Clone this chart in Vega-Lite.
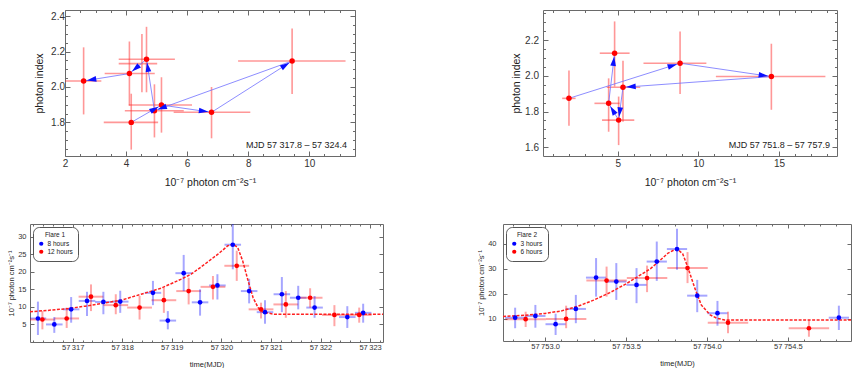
{
  "$schema": "https://vega.github.io/schema/vega-lite/v6.json",
  "padding": {"left": 0, "top": 7, "right": 0, "bottom": 0},
  "spacing": 34,
  "resolve": {"scale": {"color": "independent"}, "legend": {"color": "independent"}},
  "datasets": {
    "hysteresis_flare1": [
      {"step": 1, "flux": 4.17, "flux_lo": 3.27, "flux_hi": 5.05, "index": 1.80, "index_lo": 1.646, "index_hi": 1.962},
      {"step": 2, "flux": 5.16, "flux_lo": 4.09, "flux_hi": 6.16, "index": 1.898, "index_lo": 1.742, "index_hi": 2.055},
      {"step": 3, "flux": 6.80, "flux_lo": 5.56, "flux_hi": 8.07, "index": 1.857, "index_lo": 1.71, "index_hi": 2.00},
      {"step": 4, "flux": 9.44, "flux_lo": 7.67, "flux_hi": 11.19, "index": 2.147, "index_lo": 1.96, "index_hi": 2.33},
      {"step": 5, "flux": 4.93, "flux_lo": 3.96, "flux_hi": 5.89, "index": 1.866, "index_lo": 1.715, "index_hi": 2.015},
      {"step": 6, "flux": 4.67, "flux_lo": 3.76, "flux_hi": 5.60, "index": 2.157, "index_lo": 1.97, "index_hi": 2.34},
      {"step": 7, "flux": 4.11, "flux_lo": 3.30, "flux_hi": 4.94, "index": 2.076, "index_lo": 1.895, "index_hi": 2.257},
      {"step": 8, "flux": 2.61, "flux_lo": 2.01, "flux_hi": 3.19, "index": 2.034, "index_lo": 1.845, "index_hi": 2.224},
      {"step": null, "flux": 4.52, "flux_lo": 3.76, "flux_hi": 5.02, "index": 2.132, "index_lo": 1.97, "index_hi": 2.30}
    ],
    "hysteresis_flare2": [
      {"step": 1, "flux": 1.98, "flux_lo": 1.56, "flux_hi": 2.39, "index": 1.874, "index_lo": 1.72, "index_hi": 2.03},
      {"step": 2, "flux": 8.87, "flux_lo": 6.6, "flux_hi": 10.5, "index": 2.071, "index_lo": 1.898, "index_hi": 2.249},
      {"step": 3, "flux": 14.53, "flux_lo": 11.09, "flux_hi": 17.88, "index": 1.996, "index_lo": 1.81, "index_hi": 2.18},
      {"step": 4, "flux": 5.33, "flux_lo": 4.32, "flux_hi": 6.4, "index": 1.936, "index_lo": 1.743, "index_hi": 2.084},
      {"step": 5, "flux": 5.06, "flux_lo": 4.03, "flux_hi": 6.03, "index": 1.752, "index_lo": 1.612, "index_hi": 1.884},
      {"step": 6, "flux": 4.44, "flux_lo": 3.56, "flux_hi": 5.12, "index": 1.846, "index_lo": 1.687, "index_hi": 1.986},
      {"step": 7, "flux": 4.81, "flux_lo": 3.89, "flux_hi": 5.74, "index": 2.127, "index_lo": 1.94, "index_hi": 2.305}
    ],
    "lightcurve_flare1": [
      {"binning": "8 hours", "t": 57316.30, "t_lo": 57316.133, "t_hi": 57316.467, "flux": 6.7, "flux_lo": 2.0, "flux_hi": 11.5},
      {"binning": "8 hours", "t": 57316.63, "t_lo": 57316.463, "t_hi": 57316.797, "flux": 5.0, "flux_lo": 2.6, "flux_hi": 7.1},
      {"binning": "8 hours", "t": 57316.97, "t_lo": 57316.803, "t_hi": 57317.137, "flux": 9.3, "flux_lo": 5.5, "flux_hi": 12.8},
      {"binning": "8 hours", "t": 57317.29, "t_lo": 57317.123, "t_hi": 57317.457, "flux": 11.7, "flux_lo": 7.4, "flux_hi": 14.3},
      {"binning": "8 hours", "t": 57317.62, "t_lo": 57317.453, "t_hi": 57317.787, "flux": 11.4, "flux_lo": 7.9, "flux_hi": 14.3},
      {"binning": "8 hours", "t": 57317.96, "t_lo": 57317.793, "t_hi": 57318.127, "flux": 11.5, "flux_lo": 8.3, "flux_hi": 14.6},
      {"binning": "8 hours", "t": 57318.62, "t_lo": 57318.453, "t_hi": 57318.787, "flux": 14.0, "flux_lo": 10.5, "flux_hi": 17.4},
      {"binning": "8 hours", "t": 57318.92, "t_lo": 57318.753, "t_hi": 57319.087, "flux": 6.1, "flux_lo": 3.6, "flux_hi": 8.8},
      {"binning": "8 hours", "t": 57319.24, "t_lo": 57319.073, "t_hi": 57319.407, "flux": 19.6, "flux_lo": 14.5, "flux_hi": 24.8},
      {"binning": "8 hours", "t": 57319.57, "t_lo": 57319.403, "t_hi": 57319.737, "flux": 11.3, "flux_lo": 7.5, "flux_hi": 15.0},
      {"binning": "8 hours", "t": 57319.92, "t_lo": 57319.753, "t_hi": 57320.087, "flux": 16.1, "flux_lo": 12.1, "flux_hi": 19.3},
      {"binning": "8 hours", "t": 57320.23, "t_lo": 57320.063, "t_hi": 57320.397, "flux": 27.7, "flux_lo": 20.7, "flux_hi": 33.6},
      {"binning": "8 hours", "t": 57320.56, "t_lo": 57320.393, "t_hi": 57320.727, "flux": 14.5, "flux_lo": 11.0, "flux_hi": 18.0},
      {"binning": "8 hours", "t": 57320.88, "t_lo": 57320.713, "t_hi": 57321.047, "flux": 8.5, "flux_lo": 5.2, "flux_hi": 11.9},
      {"binning": "8 hours", "t": 57321.22, "t_lo": 57321.053, "t_hi": 57321.387, "flux": 13.6, "flux_lo": 8.5, "flux_hi": 18.5},
      {"binning": "8 hours", "t": 57321.55, "t_lo": 57321.383, "t_hi": 57321.717, "flux": 12.6, "flux_lo": 9.3, "flux_hi": 16.0},
      {"binning": "8 hours", "t": 57321.88, "t_lo": 57321.713, "t_hi": 57322.047, "flux": 9.8, "flux_lo": 6.9, "flux_hi": 13.1},
      {"binning": "8 hours", "t": 57322.54, "t_lo": 57322.373, "t_hi": 57322.707, "flux": 7.1, "flux_lo": 4.0, "flux_hi": 10.2},
      {"binning": "8 hours", "t": 57322.86, "t_lo": 57322.693, "t_hi": 57323.027, "flux": 8.3, "flux_lo": 5.5, "flux_hi": 10.9},
      {"binning": "12 hours", "t": 57316.39, "t_lo": 57316.14, "t_hi": 57316.64, "flux": 6.4, "flux_lo": 3.6, "flux_hi": 8.8},
      {"binning": "12 hours", "t": 57316.88, "t_lo": 57316.63, "t_hi": 57317.13, "flux": 6.7, "flux_lo": 4.0, "flux_hi": 9.8},
      {"binning": "12 hours", "t": 57317.37, "t_lo": 57317.12, "t_hi": 57317.62, "flux": 12.9, "flux_lo": 8.8, "flux_hi": 16.4},
      {"binning": "12 hours", "t": 57317.87, "t_lo": 57317.62, "t_hi": 57318.12, "flux": 10.5, "flux_lo": 7.9, "flux_hi": 13.6},
      {"binning": "12 hours", "t": 57318.35, "t_lo": 57318.10, "t_hi": 57318.60, "flux": 9.8, "flux_lo": 6.4, "flux_hi": 13.1},
      {"binning": "12 hours", "t": 57318.84, "t_lo": 57318.59, "t_hi": 57319.09, "flux": 11.9, "flux_lo": 8.3, "flux_hi": 15.5},
      {"binning": "12 hours", "t": 57319.34, "t_lo": 57319.09, "t_hi": 57319.59, "flux": 14.5, "flux_lo": 10.7, "flux_hi": 18.3},
      {"binning": "12 hours", "t": 57319.83, "t_lo": 57319.58, "t_hi": 57320.08, "flux": 15.7, "flux_lo": 12.1, "flux_hi": 18.8},
      {"binning": "12 hours", "t": 57320.31, "t_lo": 57320.06, "t_hi": 57320.56, "flux": 21.7, "flux_lo": 17.4, "flux_hi": 26.0},
      {"binning": "12 hours", "t": 57320.80, "t_lo": 57320.55, "t_hi": 57321.05, "flux": 9.3, "flux_lo": 6.7, "flux_hi": 11.2},
      {"binning": "12 hours", "t": 57321.30, "t_lo": 57321.05, "t_hi": 57321.55, "flux": 10.7, "flux_lo": 6.9, "flux_hi": 14.5},
      {"binning": "12 hours", "t": 57321.79, "t_lo": 57321.54, "t_hi": 57322.04, "flux": 12.6, "flux_lo": 9.8, "flux_hi": 15.3},
      {"binning": "12 hours", "t": 57322.28, "t_lo": 57322.03, "t_hi": 57322.53, "flux": 7.7, "flux_lo": 4.5, "flux_hi": 10.5},
      {"binning": "12 hours", "t": 57322.78, "t_lo": 57322.53, "t_hi": 57323.03, "flux": 7.7, "flux_lo": 5.5, "flux_hi": 9.8}
    ],
    "fit_flare1": [
      {"t": 57316.14, "flux": 8.6}, {"t": 57316.50, "flux": 9.0}, {"t": 57316.90, "flux": 9.5},
      {"t": 57317.25, "flux": 10.2}, {"t": 57317.57, "flux": 10.9}, {"t": 57317.98, "flux": 11.9},
      {"t": 57318.38, "flux": 13.6}, {"t": 57318.78, "flux": 15.3}, {"t": 57319.19, "flux": 17.9},
      {"t": 57319.39, "flux": 19.3}, {"t": 57319.66, "flux": 22.1}, {"t": 57319.93, "flux": 25.0},
      {"t": 57320.13, "flux": 27.4}, {"t": 57320.23, "flux": 27.9}, {"t": 57320.33, "flux": 26.9},
      {"t": 57320.43, "flux": 23.1}, {"t": 57320.54, "flux": 17.4}, {"t": 57320.64, "flux": 12.6},
      {"t": 57320.74, "flux": 9.8}, {"t": 57320.84, "flux": 8.5}, {"t": 57321.07, "flux": 7.9},
      {"t": 57323.26, "flux": 7.9}
    ],
    "lightcurve_flare2": [
      {"binning": "3 hours", "t": 57752.815, "t_lo": 57752.7525, "t_hi": 57752.8775, "flux": 10.5, "flux_lo": 6.3, "flux_hi": 14.5},
      {"binning": "3 hours", "t": 57752.94, "t_lo": 57752.8775, "t_hi": 57753.0025, "flux": 11.2, "flux_lo": 6.5, "flux_hi": 15.6},
      {"binning": "3 hours", "t": 57753.065, "t_lo": 57753.0025, "t_hi": 57753.1275, "flux": 7.9, "flux_lo": 3.6, "flux_hi": 12.1},
      {"binning": "3 hours", "t": 57753.19, "t_lo": 57753.1275, "t_hi": 57753.2525, "flux": 14.0, "flux_lo": 8.3, "flux_hi": 19.6},
      {"binning": "3 hours", "t": 57753.315, "t_lo": 57753.2525, "t_hi": 57753.3775, "flux": 26.5, "flux_lo": 18.9, "flux_hi": 34.3},
      {"binning": "3 hours", "t": 57753.44, "t_lo": 57753.3775, "t_hi": 57753.5025, "flux": 24.9, "flux_lo": 17.6, "flux_hi": 32.3},
      {"binning": "3 hours", "t": 57753.565, "t_lo": 57753.5025, "t_hi": 57753.6275, "flux": 23.6, "flux_lo": 16.3, "flux_hi": 30.3},
      {"binning": "3 hours", "t": 57753.69, "t_lo": 57753.6275, "t_hi": 57753.7525, "flux": 32.9, "flux_lo": 25.2, "flux_hi": 40.9},
      {"binning": "3 hours", "t": 57753.815, "t_lo": 57753.7525, "t_hi": 57753.8775, "flux": 37.9, "flux_lo": 29.6, "flux_hi": 46.0},
      {"binning": "3 hours", "t": 57753.94, "t_lo": 57753.8775, "t_hi": 57754.0025, "flux": 19.3, "flux_lo": 12.7, "flux_hi": 25.6},
      {"binning": "3 hours", "t": 57754.065, "t_lo": 57754.0025, "t_hi": 57754.1275, "flux": 12.3, "flux_lo": 7.3, "flux_hi": 17.2},
      {"binning": "3 hours", "t": 57754.815, "t_lo": 57754.7525, "t_hi": 57754.8775, "flux": 10.5, "flux_lo": 5.6, "flux_hi": 15.3},
      {"binning": "6 hours", "t": 57752.88, "t_lo": 57752.755, "t_hi": 57753.005, "flux": 9.9, "flux_lo": 6.8, "flux_hi": 12.9},
      {"binning": "6 hours", "t": 57753.13, "t_lo": 57753.005, "t_hi": 57753.255, "flux": 10.0, "flux_lo": 6.3, "flux_hi": 15.3},
      {"binning": "6 hours", "t": 57753.38, "t_lo": 57753.255, "t_hi": 57753.505, "flux": 25.3, "flux_lo": 18.9, "flux_hi": 30.9},
      {"binning": "6 hours", "t": 57753.63, "t_lo": 57753.505, "t_hi": 57753.755, "flux": 26.3, "flux_lo": 20.7, "flux_hi": 31.3},
      {"binning": "6 hours", "t": 57753.88, "t_lo": 57753.755, "t_hi": 57754.005, "flux": 30.3, "flux_lo": 24.3, "flux_hi": 36.7},
      {"binning": "6 hours", "t": 57754.13, "t_lo": 57754.005, "t_hi": 57754.255, "flux": 8.5, "flux_lo": 4.3, "flux_hi": 12.9},
      {"binning": "6 hours", "t": 57754.63, "t_lo": 57754.505, "t_hi": 57754.755, "flux": 6.3, "flux_lo": 2.9, "flux_hi": 9.6}
    ],
    "fit_flare2": [
      {"t": 57752.74, "flux": 11.0}, {"t": 57752.80, "flux": 11.2}, {"t": 57752.90, "flux": 11.6},
      {"t": 57753.00, "flux": 12.2}, {"t": 57753.10, "flux": 13.2}, {"t": 57753.20, "flux": 15.0},
      {"t": 57753.30, "flux": 17.5}, {"t": 57753.40, "flux": 20.5}, {"t": 57753.50, "flux": 24.0},
      {"t": 57753.55, "flux": 26.0}, {"t": 57753.60, "flux": 28.0}, {"t": 57753.65, "flux": 30.0},
      {"t": 57753.70, "flux": 32.8}, {"t": 57753.76, "flux": 36.3}, {"t": 57753.80, "flux": 37.6},
      {"t": 57753.82, "flux": 37.7}, {"t": 57753.85, "flux": 36.0}, {"t": 57753.88, "flux": 31.0},
      {"t": 57753.925, "flux": 22.3}, {"t": 57753.965, "flux": 15.6}, {"t": 57754.02, "flux": 11.6},
      {"t": 57754.06, "flux": 10.3}, {"t": 57754.11, "flux": 9.6}, {"t": 57754.89, "flux": 9.6}
    ]
  },
  "vconcat": [
    {
      "spacing": 2,
      "hconcat": [
        {
          "width": 1,
          "height": 1,
          "view": {"stroke": null},
          "data": {"values": []},
          "mark": {"type": "point", "opacity": 0},
          "encoding": {}
        },
        {
          "spacing": 155,
          "hconcat": [
            {
              "width": 290,
              "height": 146,
              "data": {"name": "hysteresis_flare1"},
              "resolve": {"axis": {"x": "independent", "y": "independent"}},
              "layer": [
                {
                  "mark": {"type": "rule", "color": "#ff3030", "opacity": 0.5, "strokeWidth": 1.6, "clip": true},
                  "encoding": {
                    "x": {"field": "flux_lo", "type": "quantitative", "scale": {"domain": [2, 11.5], "nice": false, "zero": false},
                      "axis": {"orient": "bottom", "title": "10⁻⁷ photon cm⁻²s⁻¹", "values": [2, 2.5, 3, 3.5, 4, 4.5, 5, 5.5, 6, 6.5, 7, 7.5, 8, 8.5, 9, 9.5, 10, 10.5, 11, 11.5],
                        "labelExpr": "abs(datum.value/2 - round(datum.value/2)) < 0.001 ? format(datum.value, 'd') : ''",
                        "tickSize": {"condition": {"test": "abs(datum.value/2 - round(datum.value/2)) < 0.001", "value": -5}, "value": -2.5},
                        "labelPadding": 7, "titlePadding": 7, "labelFontSize": 10, "titleFontSize": 10.5, "labelFlush": false, "labelOverlap": false}},
                    "x2": {"field": "flux_hi"},
                    "y": {"field": "index", "type": "quantitative", "scale": {"domain": [1.61, 2.435], "nice": false, "zero": false},
                      "axis": {"orient": "left", "title": "photon index", "values": [1.65, 1.7, 1.75, 1.8, 1.85, 1.9, 1.95, 2.0, 2.05, 2.1, 2.15, 2.2, 2.25, 2.3, 2.35, 2.4],
                        "labelExpr": "abs(datum.value*5 - round(datum.value*5)) < 0.001 ? format(datum.value, '.1f') : ''",
                        "tickSize": {"condition": {"test": "abs(datum.value*5 - round(datum.value*5)) < 0.001", "value": -5}, "value": -2.5},
                        "labelPadding": 5.5, "labelFontSize": 10, "titleFontSize": 10.5, "titleX": -21, "titleY": 73, "labelOverlap": false}}
                  }
                },
                {
                  "mark": {"type": "rule", "color": "#ff3030", "opacity": 0.5, "strokeWidth": 1.6, "clip": true},
                  "encoding": {
                    "x": {"field": "flux", "type": "quantitative", "scale": {"domain": [2, 11.5], "nice": false, "zero": false},
                      "axis": {"orient": "top", "title": null, "labels": false, "values": [2, 2.5, 3, 3.5, 4, 4.5, 5, 5.5, 6, 6.5, 7, 7.5, 8, 8.5, 9, 9.5, 10, 10.5, 11, 11.5],
                        "tickSize": {"condition": {"test": "abs(datum.value/2 - round(datum.value/2)) < 0.001", "value": -5}, "value": -2.5}}},
                    "y": {"field": "index_lo", "type": "quantitative", "scale": {"domain": [1.61, 2.435], "nice": false, "zero": false},
                      "axis": {"orient": "right", "title": null, "labels": false, "values": [1.65, 1.7, 1.75, 1.8, 1.85, 1.9, 1.95, 2.0, 2.05, 2.1, 2.15, 2.2, 2.25, 2.3, 2.35, 2.4],
                        "tickSize": {"condition": {"test": "abs(datum.value*5 - round(datum.value*5)) < 0.001", "value": -5}, "value": -2.5}}},
                    "y2": {"field": "index_hi"}
                  }
                },
                {
                  "transform": [
                    {"filter": "datum.step != null"},
                    {"window": [{"op": "lead", "field": "flux", "as": "flux_next"}, {"op": "lead", "field": "index", "as": "index_next"}], "sort": [{"field": "step", "order": "ascending"}], "frame": [null, null]},
                    {"filter": "datum.flux_next != null"}
                  ],
                  "mark": {"type": "rule", "color": "#7070ff", "opacity": 0.8, "strokeWidth": 1},
                  "encoding": {
                    "x": {"field": "flux", "type": "quantitative", "scale": {"domain": [2, 11.5], "nice": false, "zero": false}, "axis": null},
                    "x2": {"field": "flux_next"},
                    "y": {"field": "index", "type": "quantitative", "scale": {"domain": [1.61, 2.435], "nice": false, "zero": false}, "axis": null},
                    "y2": {"field": "index_next"}
                  }
                },
                {
                  "transform": [{"filter": "datum.step != null"}],
                  "mark": {"type": "point", "filled": true, "color": "#ff0000", "opacity": 1, "size": 30},
                  "encoding": {
                    "x": {"field": "flux", "type": "quantitative", "scale": {"domain": [2, 11.5], "nice": false, "zero": false}, "axis": null},
                    "y": {"field": "index", "type": "quantitative", "scale": {"domain": [1.61, 2.435], "nice": false, "zero": false}, "axis": null}
                  }
                },
                {
                  "transform": [
                    {"filter": "datum.step != null"},
                    {"window": [{"op": "lead", "field": "flux", "as": "flux_next"}, {"op": "lead", "field": "index", "as": "index_next"}], "sort": [{"field": "step", "order": "ascending"}], "frame": [null, null]},
                    {"filter": "datum.flux_next != null"},
                    {"calculate": "(datum.flux_next - datum.flux) * 30.53", "as": "dxp"},
                    {"calculate": "(datum.index_next - datum.index) * 177", "as": "dyp"},
                    {"calculate": "sqrt(datum.dxp * datum.dxp + datum.dyp * datum.dyp)", "as": "seglen"},
                    {"calculate": "datum.flux_next - 8 * datum.dxp / datum.seglen / 30.53", "as": "head_flux"},
                    {"calculate": "datum.index_next - 8 * datum.dyp / datum.seglen / 177", "as": "head_index"},
                    {"calculate": "atan2(datum.dxp, datum.dyp) * 180 / PI", "as": "heading"}
                  ],
                  "mark": {"type": "point", "filled": true, "color": "#0a10ff", "opacity": 1, "shape": "M0,-1L0.6,1L-0.6,1Z", "size": 90},
                  "encoding": {
                    "x": {"field": "head_flux", "type": "quantitative", "scale": {"domain": [2, 11.5], "nice": false, "zero": false}, "axis": null},
                    "y": {"field": "head_index", "type": "quantitative", "scale": {"domain": [1.61, 2.435], "nice": false, "zero": false}, "axis": null},
                    "angle": {"field": "heading", "type": "quantitative", "scale": null}
                  }
                },
                {
                  "data": {"values": [{"label": "MJD 57 317.8 – 57 324.4"}]},
                  "mark": {"type": "text", "align": "right", "baseline": "middle", "fontSize": 9, "color": "#222"},
                  "encoding": {
                    "x": {"datum": 11.24, "type": "quantitative", "scale": {"domain": [2, 11.5], "nice": false, "zero": false}, "axis": null},
                    "y": {"datum": 1.672, "type": "quantitative", "scale": {"domain": [1.61, 2.435], "nice": false, "zero": false}, "axis": null},
                    "text": {"field": "label"}
                  }
                }
              ]
            },
            {
              "width": 294,
              "height": 146,
              "data": {"name": "hysteresis_flare2"},
              "resolve": {"axis": {"x": "independent", "y": "independent"}},
              "layer": [
                {
                  "mark": {"type": "rule", "color": "#ff3030", "opacity": 0.5, "strokeWidth": 1.6, "clip": true},
                  "encoding": {
                    "x": {"field": "flux_lo", "type": "quantitative", "scale": {"domain": [0.37, 18.6], "nice": false, "zero": false},
                      "axis": {"orient": "bottom", "title": "10⁻⁷ photon cm⁻²s⁻¹", "values": [1, 2, 3, 4, 5, 6, 7, 8, 9, 10, 11, 12, 13, 14, 15, 16, 17, 18],
                        "labelExpr": "abs(datum.value/5 - round(datum.value/5)) < 0.001 ? format(datum.value, 'd') : ''",
                        "tickSize": {"condition": {"test": "abs(datum.value/5 - round(datum.value/5)) < 0.001", "value": -5}, "value": -2.5},
                        "labelPadding": 7, "titlePadding": 7, "labelFontSize": 10, "titleFontSize": 10.5, "labelFlush": false, "labelOverlap": false}},
                    "x2": {"field": "flux_hi"},
                    "y": {"field": "index", "type": "quantitative", "scale": {"domain": [1.551, 2.369], "nice": false, "zero": false},
                      "axis": {"orient": "left", "title": "photon index", "values": [1.6, 1.65, 1.7, 1.75, 1.8, 1.85, 1.9, 1.95, 2.0, 2.05, 2.1, 2.15, 2.2, 2.25, 2.3, 2.35],
                        "labelExpr": "abs(datum.value*5 - round(datum.value*5)) < 0.001 ? format(datum.value, '.1f') : ''",
                        "tickSize": {"condition": {"test": "abs(datum.value*5 - round(datum.value*5)) < 0.001", "value": -5}, "value": -2.5},
                        "labelPadding": 9.5, "titlePadding": 3, "labelFontSize": 10, "titleFontSize": 10.5, "labelOverlap": false}}
                  }
                },
                {
                  "mark": {"type": "rule", "color": "#ff3030", "opacity": 0.5, "strokeWidth": 1.6, "clip": true},
                  "encoding": {
                    "x": {"field": "flux", "type": "quantitative", "scale": {"domain": [0.37, 18.6], "nice": false, "zero": false},
                      "axis": {"orient": "top", "title": null, "labels": false, "values": [1, 2, 3, 4, 5, 6, 7, 8, 9, 10, 11, 12, 13, 14, 15, 16, 17, 18],
                        "tickSize": {"condition": {"test": "abs(datum.value/5 - round(datum.value/5)) < 0.001", "value": -5}, "value": -2.5}}},
                    "y": {"field": "index_lo", "type": "quantitative", "scale": {"domain": [1.551, 2.369], "nice": false, "zero": false},
                      "axis": {"orient": "right", "title": null, "labels": false, "values": [1.6, 1.65, 1.7, 1.75, 1.8, 1.85, 1.9, 1.95, 2.0, 2.05, 2.1, 2.15, 2.2, 2.25, 2.3, 2.35],
                        "tickSize": {"condition": {"test": "abs(datum.value*5 - round(datum.value*5)) < 0.001", "value": -5}, "value": -2.5}}},
                    "y2": {"field": "index_hi"}
                  }
                },
                {
                  "transform": [
                    {"window": [{"op": "lead", "field": "flux", "as": "flux_next"}, {"op": "lead", "field": "index", "as": "index_next"}], "sort": [{"field": "step", "order": "ascending"}], "frame": [null, null]},
                    {"filter": "datum.flux_next != null"}
                  ],
                  "mark": {"type": "rule", "color": "#7070ff", "opacity": 0.8, "strokeWidth": 1},
                  "encoding": {
                    "x": {"field": "flux", "type": "quantitative", "scale": {"domain": [0.37, 18.6], "nice": false, "zero": false}, "axis": null},
                    "x2": {"field": "flux_next"},
                    "y": {"field": "index", "type": "quantitative", "scale": {"domain": [1.551, 2.369], "nice": false, "zero": false}, "axis": null},
                    "y2": {"field": "index_next"}
                  }
                },
                {
                  "mark": {"type": "point", "filled": true, "color": "#ff0000", "opacity": 1, "size": 30},
                  "encoding": {
                    "x": {"field": "flux", "type": "quantitative", "scale": {"domain": [0.37, 18.6], "nice": false, "zero": false}, "axis": null},
                    "y": {"field": "index", "type": "quantitative", "scale": {"domain": [1.551, 2.369], "nice": false, "zero": false}, "axis": null}
                  }
                },
                {
                  "transform": [
                    {"window": [{"op": "lead", "field": "flux", "as": "flux_next"}, {"op": "lead", "field": "index", "as": "index_next"}], "sort": [{"field": "step", "order": "ascending"}], "frame": [null, null]},
                    {"filter": "datum.flux_next != null"},
                    {"calculate": "(datum.flux_next - datum.flux) * 16.13", "as": "dxp"},
                    {"calculate": "(datum.index_next - datum.index) * 178.5", "as": "dyp"},
                    {"calculate": "sqrt(datum.dxp * datum.dxp + datum.dyp * datum.dyp)", "as": "seglen"},
                    {"calculate": "datum.flux_next - 8 * datum.dxp / datum.seglen / 16.13", "as": "head_flux"},
                    {"calculate": "datum.index_next - 8 * datum.dyp / datum.seglen / 178.5", "as": "head_index"},
                    {"calculate": "atan2(datum.dxp, datum.dyp) * 180 / PI", "as": "heading"}
                  ],
                  "mark": {"type": "point", "filled": true, "color": "#0a10ff", "opacity": 1, "shape": "M0,-1L0.6,1L-0.6,1Z", "size": 90},
                  "encoding": {
                    "x": {"field": "head_flux", "type": "quantitative", "scale": {"domain": [0.37, 18.6], "nice": false, "zero": false}, "axis": null},
                    "y": {"field": "head_index", "type": "quantitative", "scale": {"domain": [1.551, 2.369], "nice": false, "zero": false}, "axis": null},
                    "angle": {"field": "heading", "type": "quantitative", "scale": null}
                  }
                },
                {
                  "data": {"values": [{"label": "MJD 57 751.8 – 57 757.9"}]},
                  "mark": {"type": "text", "align": "right", "baseline": "middle", "fontSize": 9, "color": "#222"},
                  "encoding": {
                    "x": {"datum": 18.16, "type": "quantitative", "scale": {"domain": [0.37, 18.6], "nice": false, "zero": false}, "axis": null},
                    "y": {"datum": 1.613, "type": "quantitative", "scale": {"domain": [1.551, 2.369], "nice": false, "zero": false}, "axis": null},
                    "text": {"field": "label"}
                  }
                }
              ]
            }
          ]
        }
      ]
    },
    {
      "spacing": 93,
      "resolve": {"scale": {"color": "independent"}, "legend": {"color": "independent"}},
      "hconcat": [
        {
          "width": 353,
          "height": 118,
          "data": {"name": "lightcurve_flare1"},
          "resolve": {"axis": {"x": "independent", "y": "independent"}},
          "layer": [
            {
              "mark": {"type": "rule", "strokeOpacity": 0.35, "strokeWidth": 2, "clip": true},
              "encoding": {
                "x": {"field": "t_lo", "type": "quantitative", "scale": {"domain": [57316.14, 57323.26], "nice": false, "zero": false},
                  "axis": {"orient": "bottom", "title": "time(MJD)", "values": [57316.2, 57316.4, 57316.6, 57316.8, 57317, 57317.2, 57317.4, 57317.6, 57317.8, 57318, 57318.2, 57318.4, 57318.6, 57318.8, 57319, 57319.2, 57319.4, 57319.6, 57319.8, 57320, 57320.2, 57320.4, 57320.6, 57320.8, 57321, 57321.2, 57321.4, 57321.6, 57321.8, 57322, 57322.2, 57322.4, 57322.6, 57322.8, 57323, 57323.2],
                    "labelExpr": "abs(datum.value - round(datum.value)) < 0.001 ? slice(format(datum.value, 'd'), 0, 2) + '\u2009' + slice(format(datum.value, 'd'), 2) : ''",
                    "tickSize": {"condition": {"test": "abs(datum.value - round(datum.value)) < 0.001", "value": -4}, "value": -2},
                    "labelPadding": 5.5, "titlePadding": 7, "labelFontSize": 7.5, "titleFontSize": 7.5, "labelFlush": false, "labelOverlap": false}},
                "x2": {"field": "t_hi"},
                "y": {"field": "flux", "type": "quantitative", "scale": {"domain": [0, 33.6], "nice": false, "zero": false},
                  "axis": {"orient": "left", "title": "10⁻⁷ photon cm⁻²s⁻¹", "values": [5, 10, 15, 20, 25, 30], "labelExpr": "format(datum.value, 'd')",
                    "tickSize": -4, "labelPadding": 8, "labelFontSize": 7.5, "titleFontSize": 7.5, "titleX": -15, "titleY": 59, "minExtent": 29, "labelOverlap": false}},
                "stroke": {"condition": {"test": "datum.binning === '8 hours'", "value": "#0000ff"}, "value": "#ff0000"}
              }
            },
            {
              "mark": {"type": "rule", "strokeOpacity": 0.35, "strokeWidth": 2, "clip": true},
              "encoding": {
                "x": {"field": "t", "type": "quantitative", "scale": {"domain": [57316.14, 57323.26], "nice": false, "zero": false},
                  "axis": {"orient": "top", "title": null, "labels": false, "values": [57316.2, 57316.4, 57316.6, 57316.8, 57317, 57317.2, 57317.4, 57317.6, 57317.8, 57318, 57318.2, 57318.4, 57318.6, 57318.8, 57319, 57319.2, 57319.4, 57319.6, 57319.8, 57320, 57320.2, 57320.4, 57320.6, 57320.8, 57321, 57321.2, 57321.4, 57321.6, 57321.8, 57322, 57322.2, 57322.4, 57322.6, 57322.8, 57323, 57323.2],
                    "tickSize": {"condition": {"test": "abs(datum.value - round(datum.value)) < 0.001", "value": -4}, "value": -2}}},
                "y": {"field": "flux_lo", "type": "quantitative", "scale": {"domain": [0, 33.6], "nice": false, "zero": false},
                  "axis": {"orient": "right", "title": null, "labels": false, "values": [5, 10, 15, 20, 25, 30], "tickSize": -4}},
                "y2": {"field": "flux_hi"},
                "stroke": {"condition": {"test": "datum.binning === '8 hours'", "value": "#0000ff"}, "value": "#ff0000"}
              }
            },
            {
              "data": {"name": "fit_flare1"},
              "mark": {"type": "line", "color": "#ff2020", "strokeWidth": 1.5, "strokeDash": [3, 1.5], "clip": true},
              "encoding": {
                "x": {"field": "t", "type": "quantitative", "scale": {"domain": [57316.14, 57323.26], "nice": false, "zero": false}, "axis": null},
                "y": {"field": "flux", "type": "quantitative", "scale": {"domain": [0, 33.6], "nice": false, "zero": false}, "axis": null}
              }
            },
            {
              "mark": {"type": "point", "filled": true, "opacity": 1, "size": 22},
              "encoding": {
                "x": {"field": "t", "type": "quantitative", "scale": {"domain": [57316.14, 57323.26], "nice": false, "zero": false}, "axis": null},
                "y": {"field": "flux", "type": "quantitative", "scale": {"domain": [0, 33.6], "nice": false, "zero": false}, "axis": null},
                "color": {"field": "binning", "type": "nominal", "scale": {"domain": ["8 hours", "12 hours"], "range": ["#0000ff", "#ff0000"]},
                  "legend": {"title": "Flare 1", "orient": "top-left", "offset": 3, "strokeColor": "#555", "cornerRadius": 6, "padding": 5, "fillColor": "white",
                    "titleFontSize": 6.5, "titleFontWeight": "normal", "titleAnchor": "middle", "titlePadding": 2, "labelFontSize": 6.5, "symbolSize": 18, "symbolType": "circle",
                    "symbolStrokeWidth": 0, "rowPadding": 1, "labelOffset": 3}}
              }
            }
          ]
        },
        {
          "width": 348,
          "height": 117,
          "data": {"name": "lightcurve_flare2"},
          "resolve": {"axis": {"x": "independent", "y": "independent"}},
          "layer": [
            {
              "mark": {"type": "rule", "strokeOpacity": 0.35, "strokeWidth": 2, "clip": true},
              "encoding": {
                "x": {"field": "t_lo", "type": "quantitative", "scale": {"domain": [57752.74, 57754.89], "nice": false, "zero": false},
                  "axis": {"orient": "bottom", "title": "time(MJD)", "values": [57752.8, 57752.9, 57753.0, 57753.1, 57753.2, 57753.3, 57753.4, 57753.5, 57753.6, 57753.7, 57753.8, 57753.9, 57754.0, 57754.1, 57754.2, 57754.3, 57754.4, 57754.5, 57754.6, 57754.7, 57754.8],
                    "labelExpr": "abs(datum.value*2 - round(datum.value*2)) < 0.001 ? slice(format(datum.value, '.1f'), 0, 2) + '\u2009' + slice(format(datum.value, '.1f'), 2) : ''",
                    "tickSize": {"condition": {"test": "abs(datum.value*2 - round(datum.value*2)) < 0.001", "value": -4}, "value": -2},
                    "labelPadding": 5.5, "titlePadding": 7, "labelFontSize": 7.5, "titleFontSize": 7.5, "labelFlush": false, "labelOverlap": false}},
                "x2": {"field": "t_hi"},
                "y": {"field": "flux", "type": "quantitative", "scale": {"domain": [1.2, 47.9], "nice": false, "zero": false},
                  "axis": {"orient": "left", "title": "10⁻⁷ photon cm⁻²s⁻¹", "values": [10, 20, 30, 40], "labelExpr": "format(datum.value, 'd')",
                    "tickSize": -4, "labelPadding": 11, "titlePadding": 2, "labelFontSize": 7.5, "titleFontSize": 7.5, "labelOverlap": false}},
                "stroke": {"condition": {"test": "datum.binning === '3 hours'", "value": "#0000ff"}, "value": "#ff0000"}
              }
            },
            {
              "mark": {"type": "rule", "strokeOpacity": 0.35, "strokeWidth": 2, "clip": true},
              "encoding": {
                "x": {"field": "t", "type": "quantitative", "scale": {"domain": [57752.74, 57754.89], "nice": false, "zero": false},
                  "axis": {"orient": "top", "title": null, "labels": false, "values": [57752.8, 57752.9, 57753.0, 57753.1, 57753.2, 57753.3, 57753.4, 57753.5, 57753.6, 57753.7, 57753.8, 57753.9, 57754.0, 57754.1, 57754.2, 57754.3, 57754.4, 57754.5, 57754.6, 57754.7, 57754.8],
                    "tickSize": {"condition": {"test": "abs(datum.value*2 - round(datum.value*2)) < 0.001", "value": -4}, "value": -2}}},
                "y": {"field": "flux_lo", "type": "quantitative", "scale": {"domain": [1.2, 47.9], "nice": false, "zero": false},
                  "axis": {"orient": "right", "title": null, "labels": false, "values": [10, 20, 30, 40], "tickSize": -4}},
                "y2": {"field": "flux_hi"},
                "stroke": {"condition": {"test": "datum.binning === '3 hours'", "value": "#0000ff"}, "value": "#ff0000"}
              }
            },
            {
              "data": {"name": "fit_flare2"},
              "mark": {"type": "line", "color": "#ff2020", "strokeWidth": 1.5, "strokeDash": [3, 1.5], "clip": true},
              "encoding": {
                "x": {"field": "t", "type": "quantitative", "scale": {"domain": [57752.74, 57754.89], "nice": false, "zero": false}, "axis": null},
                "y": {"field": "flux", "type": "quantitative", "scale": {"domain": [1.2, 47.9], "nice": false, "zero": false}, "axis": null}
              }
            },
            {
              "mark": {"type": "point", "filled": true, "opacity": 1, "size": 22},
              "encoding": {
                "x": {"field": "t", "type": "quantitative", "scale": {"domain": [57752.74, 57754.89], "nice": false, "zero": false}, "axis": null},
                "y": {"field": "flux", "type": "quantitative", "scale": {"domain": [1.2, 47.9], "nice": false, "zero": false}, "axis": null},
                "color": {"field": "binning", "type": "nominal", "scale": {"domain": ["3 hours", "6 hours"], "range": ["#0000ff", "#ff0000"]},
                  "legend": {"title": "Flare 2", "orient": "top-left", "offset": 3, "strokeColor": "#555", "cornerRadius": 6, "padding": 5, "fillColor": "white",
                    "titleFontSize": 6.5, "titleFontWeight": "normal", "titleAnchor": "middle", "titlePadding": 2, "labelFontSize": 6.5, "symbolSize": 18, "symbolType": "circle",
                    "symbolStrokeWidth": 0, "rowPadding": 1, "labelOffset": 3}}
              }
            }
          ]
        }
      ]
    }
  ],
  "config": {
    "font": "Liberation Sans",
    "view": {"stroke": "#6a6a6a", "strokeWidth": 1},
    "axis": {"domain": false, "grid": false, "tickColor": "#6a6a6a", "tickWidth": 1, "labelColor": "#333333", "titleColor": "#222222", "titleFontWeight": "normal", "labelFont": "Liberation Sans", "titleFont": "Liberation Sans"},
    "legend": {"labelFont": "Liberation Sans", "titleFont": "Liberation Sans", "labelColor": "#222222", "titleColor": "#222222"}
  }
}
